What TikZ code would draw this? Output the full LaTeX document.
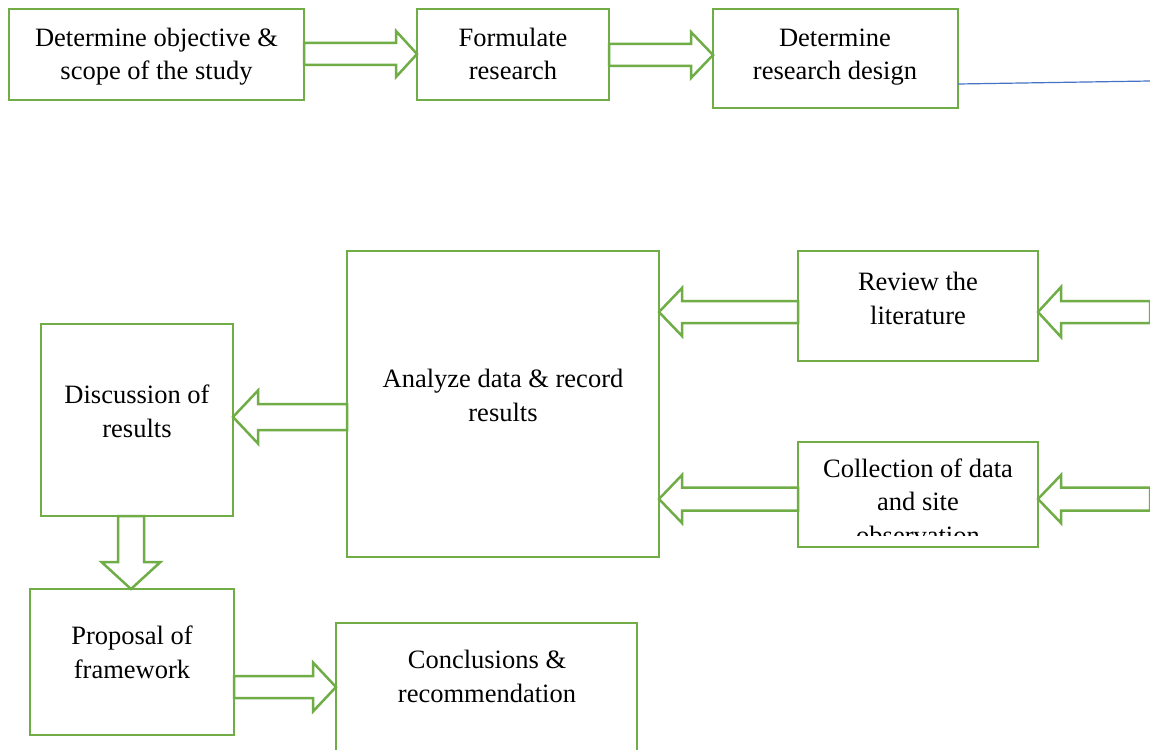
\documentclass[tikz,border=0pt]{standalone}
\usepackage{fontspec}
\setmainfont{Liberation Serif}
\usetikzlibrary{calc}
\definecolor{gr}{HTML}{70AD47}
\definecolor{bl}{HTML}{4472C4}
\tikzset{
  bx/.style={draw=gr, line width=2.5pt, inner sep=0pt, outer sep=0pt, rectangle},
  txt/.style={align=center, inner sep=0pt, font=\fontsize{26.5}{33.5}\selectfont},
  barrow/.style={draw=gr, fill=white, line width=2.5pt, line join=miter},
}
% box: name, left, top, right, bottom
\newcommand\mkbox[5]{%
  \node[bx, minimum width={(#4-#2)*1pt}, minimum height={(#5-#3)*1pt}] (#1) at ({(#2+#4)/2},{(#3+#5)/2}) {};}
% horizontal block arrow: from, tip, y, shaft half, head half, head length (signed)
\newcommand\harr[6]{%
  \draw[barrow] let \p1=(#1), \p2=(#2), \p3=(0,#3) in
  (\x1,{\y3+#4pt}) -- ({\x2-(#6pt)},{\y3+#4pt}) -- ({\x2-(#6pt)},{\y3+#5pt}) -- (\x2,\y3)
  -- ({\x2-(#6pt)},{\y3-#5pt}) -- ({\x2-(#6pt)},{\y3-#4pt}) -- (\x1,{\y3-#4pt}) -- cycle;}
\begin{document}
\begin{tikzpicture}[x=1pt,y=-1pt]
\clip (0,0) rectangle (1150,749);
\fill[white] (0,0) rectangle (1150,749);
% boxes
\mkbox{b1}{9}{9}{304}{100}
\mkbox{b2}{417}{9}{609}{100}
\mkbox{b3}{713}{9}{958}{108}
\mkbox{b4}{347}{251}{659}{557}
\mkbox{b5}{798}{251}{1038}{361}
\mkbox{b6}{798}{442}{1038}{547}
\mkbox{b7}{41}{324}{233}{516}
\mkbox{b8}{30}{589}{234}{735}
\mkbox{b9}{336}{623}{637}{770}
% texts (anchor = baseline of last line)
\node[txt, anchor=base] (t1) at (156.5,80) {Determine objective \&\\scope of the study};
\node[txt, anchor=base] (t2) at (513,80) {Formulate\\research};
\node[txt, anchor=base] (t3) at (835,80) {Determine\\research design};
\node[txt, anchor=base] (t5) at (918,324) {Review the\\literature};
\node[txt, anchor=base] (t4) at (503,421) {Analyze data \& record\\results};
\node[txt, anchor=base] (t7) at (137,437) {Discussion of\\results};
\begin{scope}
\clip (800,444) rectangle (1036,535);
\node[txt, anchor=base] (t6) at (918,544) {Collection of data\\and site\\observation};
\end{scope}
\node[txt, anchor=base] (t8) at (132,678) {Proposal of\\framework};
\node[txt, anchor=base] (t9) at (487,702) {Conclusions \&\\recommendation};
% free ends at the right edge
\coordinate (r5) at (1150,312);
\coordinate (r6) at (1150,499);
\coordinate (blueend) at (1150,81);
\coordinate (bluestart) at (958,84);
% arrows
\harr{b1.east}{b2.west}{54}{11}{23}{21}
\harr{b2.east}{b3.west}{55}{11}{23}{22}
\harr{b5.west}{b4.east}{312}{11}{24}{-23}
\harr{r5}{b5.east}{312}{11}{25}{-23}
\harr{b6.west}{b4.east}{499}{11.5}{24}{-23}
\harr{r6}{b6.east}{499}{11.5}{24}{-23}
\harr{b4.west}{b7.east}{417}{13}{26.5}{-25}
\harr{b8.east}{b9.west}{687}{11}{24.5}{23}
\draw[barrow] let \p1=(b7.south), \p2=(b8.north), \p3=(131,0) in
  ({\x3-13pt},\y1) -- ({\x3-13pt},{\y2+27pt}) -- ({\x3-29.5pt},{\y2+27pt}) -- (\x3,\y2)
  -- ({\x3+29.5pt},{\y2+27pt}) -- ({\x3+13pt},{\y2+27pt}) -- ({\x3+13pt},\y1) -- cycle;
% blue line
\draw[bl, line width=1.2pt] (bluestart) -- (blueend);
\end{tikzpicture}
\end{document}
